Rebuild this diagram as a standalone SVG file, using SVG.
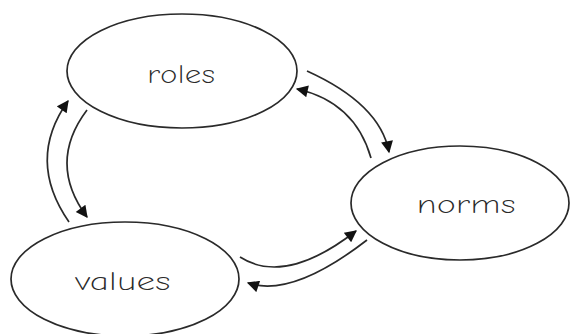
<svg xmlns="http://www.w3.org/2000/svg" width="570" height="334" viewBox="0 0 570 334">
<style>
.node ellipse{fill:#fff;stroke:#2a2a2a;stroke-width:1.7}
.node text{font-family:"Comic Neue","DejaVu Sans","Liberation Sans",sans-serif;font-size:26px;fill:#2a2a2a;text-anchor:middle;font-weight:300}
.conn path{fill:none;stroke:#2a2a2a;stroke-width:1.7;marker-end:url(#ah)}
</style>
<defs>
<marker id="ah" viewBox="0 0 10 10" refX="9" refY="5" markerWidth="14" markerHeight="12" markerUnits="userSpaceOnUse" orient="auto">
<path d="M0,0 L10,5 L0,10 z" fill="#111"/>
</marker>
</defs>
<rect width="570" height="334" fill="#fff"/>
<g id="roles" class="node">
<ellipse cx="182" cy="71" rx="115" ry="57"/>
<text x="181" y="83" textLength="68" lengthAdjust="spacingAndGlyphs">roles</text>
</g>
<g id="norms" class="node">
<ellipse cx="460" cy="203" rx="109" ry="57"/>
<text x="466" y="213" textLength="99" lengthAdjust="spacingAndGlyphs">norms</text>
</g>
<g id="values" class="node">
<ellipse cx="125" cy="279" rx="114" ry="57"/>
<text x="123" y="290" textLength="95" lengthAdjust="spacingAndGlyphs">values</text>
</g>
<g id="connectors" class="conn">
<path d="M69,222 Q26,160 68,101"/>
<path d="M87,110 Q47,163 87,217"/>
<path d="M307,71 Q380,104 389,152"/>
<path d="M371,158 Q355,102 297,89"/>
<path d="M240,257 Q285,286 356,231"/>
<path d="M367,240 Q292,298 248,283"/>
</g>
</svg>
